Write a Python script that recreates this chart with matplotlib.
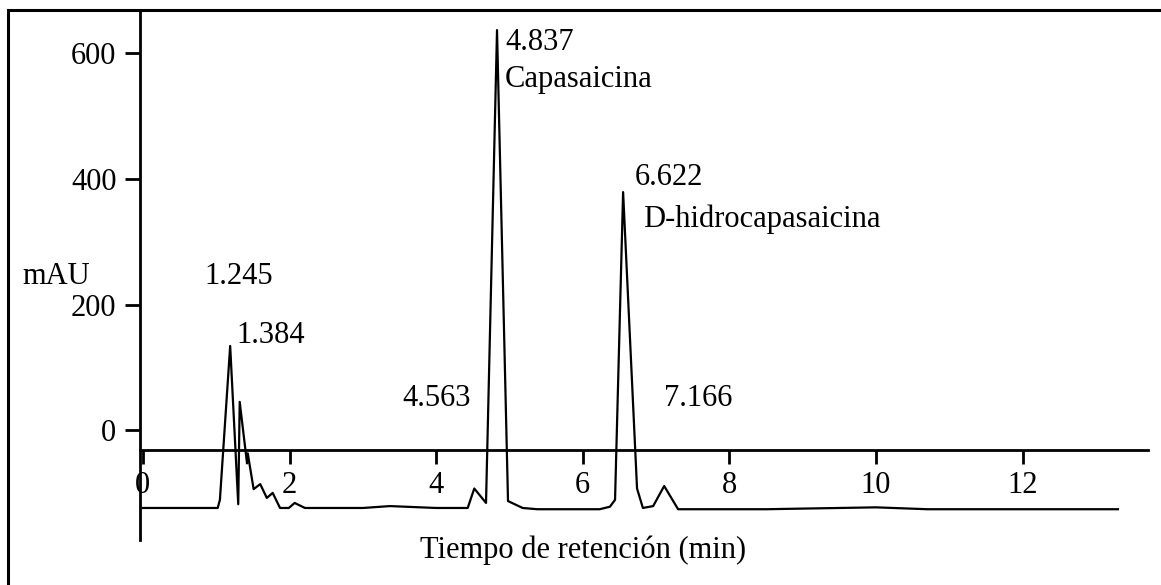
import matplotlib.pyplot as plt
from matplotlib.patches import Rectangle

# chromatogram trace
tiempo = [0.0, 1.02, 1.05, 1.19, 1.30, 1.32, 1.42, 1.43, 1.51, 1.60, 1.69, 1.77,
          1.87, 1.99, 2.07, 2.21, 3.0, 3.37, 4.0, 4.43, 4.52, 4.68, 4.83, 4.98,
          5.18, 5.38, 6.23, 6.37, 6.44, 6.55, 6.74, 6.82, 6.96, 7.11, 7.30, 8.5,
          10.0, 10.7, 13.3]
mau = [-124, -124, -111, 134, -118, 45, -53, -37, -94, -86, -108, -100,
       -124, -124, -116, -124, -124, -121, -124, -124, -93, -116, 637, -113,
       -124, -126, -126, -122, -111, 379, -93, -124, -121, -89, -126, -126,
       -123, -126, -126]

x_ticks = [0, 2, 4, 6, 8, 10, 12]
y_ticks = [0, 200, 400, 600]

# peak labels: (text, t, mAU, ha)
etiquetas = [
    ("1.245", 1.30, 244, "center"),
    ("1.384", 1.28, 151, "left"),
    ("4.837", 4.94, 617, "left"),
    ("Capasaicina", 4.94, 558, "left"),
    ("6.622", 6.71, 402, "left"),
    ("D-hidrocapasaicina", 6.82, 335, "left"),
    ("4.563", 4.01, 51, "center"),
    ("7.166", 7.57, 51, "center"),
]

W, H = 1161, 585
FS = 22
plt.rcParams['font.family'] = ['Liberation Serif', 'DejaVu Serif']

fig = plt.figure(figsize=(W / 100, H / 100), dpi=100)

# outer frame (only top and left edges visible)
fig.patches.append(Rectangle((8 / W, -0.1), 1.2, 1 - 10 / H + 0.1,
                             transform=fig.transFigure, fill=False,
                             ec='black', lw=2.2))

ax = fig.add_axes([140 / W, (H - 540) / H, (1148 - 140) / W, 530 / H])
ax.set_xlim(-0.04, 13.71)
ax.set_ylim(-175, 669)

ax.plot(tiempo, mau, color='black', lw=1.6)

for s in ['top', 'right']:
    ax.spines[s].set_visible(False)
ax.spines['left'].set_linewidth(2)
ax.spines['bottom'].set_linewidth(2)
ax.spines['bottom'].set_position(('data', -32))

ax.set_xticks(x_ticks)
ax.set_yticks(y_ticks)
ax.tick_params(axis='x', direction='out', length=10, width=2, pad=5, labelsize=FS)
ax.tick_params(axis='y', direction='out', length=11, width=2, pad=6, labelsize=FS)

for txt, t, v, ha in etiquetas:
    ax.text(t, v, txt, ha=ha, va='center', fontsize=FS)

fig.text(22 / W, 1 - 277 / H, "mAU", ha='left', va='center', fontsize=FS)
fig.text(583 / W, 1 - 550 / H, "Tiempo de retención (min)", ha='center',
         va='center', fontsize=FS)

fig.savefig('out.png', dpi=100)
